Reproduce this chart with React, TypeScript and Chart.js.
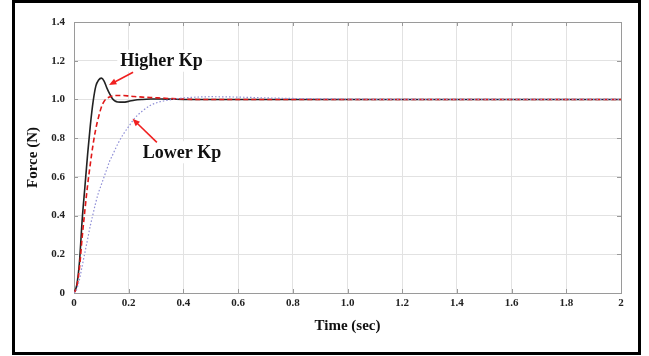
import React, { useEffect, useRef } from "react";
import { Chart, registerables } from "chart.js";

Chart.register(...registerables);

const timeSec = [0, 0.01, 0.02, 0.03, 0.04, 0.05, 0.06, 0.07, 0.08, 0.09, 0.1, 0.11, 0.12, 0.13, 0.14, 0.15, 0.16, 0.18, 0.2, 0.22, 0.25, 0.28, 0.32, 0.36, 0.4, 0.45, 0.5, 0.6, 0.7, 0.8, 1.0, 1.2, 1.5, 2.0];

const higherKp = [0, 0.04, 0.16, 0.38, 0.55, 0.72, 0.87, 0.99, 1.07, 1.1, 1.11, 1.095, 1.06, 1.03, 1.005, 0.992, 0.987, 0.986, 0.99, 0.996, 1.0, 1.002, 1.002, 1.001, 1.0, 1.0, 1.0, 1.0, 1.0, 1.0, 1.0, 1.0, 1.0, 1.0];

const midKp = [0, 0.03, 0.13, 0.29, 0.43, 0.56, 0.67, 0.77, 0.85, 0.91, 0.96, 0.99, 1.005, 1.013, 1.018, 1.02, 1.02, 1.02, 1.018, 1.015, 1.012, 1.01, 1.007, 1.004, 1.002, 1.0, 1.0, 1.0, 1.0, 1.0, 1.0, 1.0, 1.0, 1.0];

const lowerKp = [0, 0.02, 0.07, 0.14, 0.21, 0.28, 0.35, 0.41, 0.47, 0.52, 0.56, 0.6, 0.64, 0.68, 0.71, 0.74, 0.77, 0.82, 0.86, 0.9, 0.94, 0.97, 0.99, 1.0, 1.008, 1.012, 1.014, 1.012, 1.008, 1.005, 1.002, 1.0, 1.0, 1.0];

const xTicks = [0, 0.2, 0.4, 0.6, 0.8, 1.0, 1.2, 1.4, 1.6, 1.8, 2];
const xTickLabels = ["0", "0.2", "0.4", "0.6", "0.8", "1.0", "1.2", "1.4", "1.6", "1.8", "2"];
const yTicks = [0, 0.2, 0.4, 0.6, 0.8, 1.0, 1.2, 1.4];
const yTickLabels = ["0", "0.2", "0.4", "0.6", "0.8", "1.0", "1.2", "1.4"];

const noteTexts = ["Higher Kp", "Lower Kp"];
const noteAt = [[0.32, 1.2], [0.395, 0.727]];
const arrowFrom = [[0.216, 1.14], [0.303, 0.778]];
const arrowTo = [[0.128, 1.075], [0.214, 0.9]];

const FONT = "'Liberation Serif', 'Times New Roman', serif";

const toPts = (ys: number[]) => timeSec.map((t, i) => ({ x: t, y: ys[i] }));

const framePlugin = {
  id: "framePlugin",
  beforeDatasetsDraw(chart: any) {
    const { ctx, chartArea: a, scales } = chart;
    ctx.save();
    ctx.strokeStyle = "#9a9a9a";
    ctx.lineWidth = 1;
    const L = 4;
    ctx.beginPath();
    xTicks.forEach((v) => {
      const px = Math.round(scales.x.getPixelForValue(v)) + 0.5;
      ctx.moveTo(px, a.bottom);
      ctx.lineTo(px, a.bottom - L);
      ctx.moveTo(px, a.top);
      ctx.lineTo(px, a.top + L);
    });
    yTicks.forEach((v) => {
      const py = Math.round(scales.y.getPixelForValue(v)) + 0.5;
      ctx.moveTo(a.left, py);
      ctx.lineTo(a.left + L, py);
      ctx.moveTo(a.right, py);
      ctx.lineTo(a.right - L, py);
    });
    ctx.stroke();
    ctx.strokeRect(Math.round(a.left) + 0.5, Math.round(a.top) + 0.5, Math.round(a.right - a.left), Math.round(a.bottom - a.top));
    ctx.restore();
  },
  afterDatasetsDraw(chart: any) {
    const { ctx, scales } = chart;
    ctx.save();
    ctx.font = `bold 18px ${FONT}`;
    ctx.textAlign = "center";
    ctx.textBaseline = "middle";
    noteTexts.forEach((t, i) => {
      const px = scales.x.getPixelForValue(noteAt[i][0]);
      const py = scales.y.getPixelForValue(noteAt[i][1]);
      const w = ctx.measureText(t).width;
      ctx.fillStyle = "#ffffff";
      ctx.fillRect(px - w / 2 - 3, py - 11, w + 6, 22);
      ctx.fillStyle = "#111111";
      ctx.fillText(t, px, py + 1);
      // arrow
      const x1 = scales.x.getPixelForValue(arrowFrom[i][0]);
      const y1 = scales.y.getPixelForValue(arrowFrom[i][1]);
      const x2 = scales.x.getPixelForValue(arrowTo[i][0]);
      const y2 = scales.y.getPixelForValue(arrowTo[i][1]);
      const ang = Math.atan2(y2 - y1, x2 - x1);
      const hl = 8;
      ctx.strokeStyle = "#f02020";
      ctx.fillStyle = "#f02020";
      ctx.lineWidth = 1.6;
      ctx.beginPath();
      ctx.moveTo(x1, y1);
      ctx.lineTo(x2 - Math.cos(ang) * hl * 0.8, y2 - Math.sin(ang) * hl * 0.8);
      ctx.stroke();
      ctx.beginPath();
      ctx.moveTo(x2, y2);
      ctx.lineTo(x2 - hl * Math.cos(ang - 0.4), y2 - hl * Math.sin(ang - 0.4));
      ctx.lineTo(x2 - hl * Math.cos(ang + 0.4), y2 - hl * Math.sin(ang + 0.4));
      ctx.closePath();
      ctx.fill();
    });
    ctx.restore();
  },
};

export default function App() {
  const ref = useRef<HTMLCanvasElement | null>(null);
  useEffect(() => {
    if (!ref.current) return;
    const chart = new Chart(ref.current, {
      type: "scatter",
      data: {
        datasets: [
          {
            label: "Lower Kp",
            data: toPts(lowerKp),
            showLine: true,
            borderColor: "#8e8ed6",
            borderWidth: 1.2,
            borderDash: [1.5, 2],
            pointRadius: 0,
            cubicInterpolationMode: "monotone",
          },
          {
            label: "Medium Kp",
            data: toPts(midKp),
            showLine: true,
            borderColor: "#e01818",
            borderWidth: 1.6,
            borderDash: [5, 3],
            pointRadius: 0,
            cubicInterpolationMode: "monotone",
          },
          {
            label: "Higher Kp",
            data: toPts(higherKp),
            showLine: true,
            borderColor: "#222222",
            borderWidth: 1.6,
            pointRadius: 0,
            cubicInterpolationMode: "monotone",
          },
        ],
      },
      options: {
        responsive: false,
        animation: false,
        layout: { padding: { left: 0, top: 22, right: 28, bottom: 0 } },
        plugins: { legend: { display: false }, tooltip: { enabled: false } },
        scales: {
          x: {
            type: "linear",
            min: 0,
            max: 2,
            afterFit: (s: any) => { s.height = 63; },
            afterBuildTicks: (s: any) => { s.ticks = xTicks.map((v) => ({ value: v })); },
            grid: { color: "#e2e2e2", drawTicks: false },
            border: { display: false },
            ticks: {
              padding: 4,
              color: "#222",
              font: { family: FONT, size: 11, weight: "bold" },
              callback: (v: any) => { const i = xTicks.indexOf(Number(v)); return i >= 0 ? xTickLabels[i] : ""; },
            },
            title: {
              display: true,
              text: "Time (sec)",
              color: "#111",
              font: { family: FONT, size: 15, weight: "bold" },
              padding: { top: 0, bottom: 21 },
            },
          },
          y: {
            type: "linear",
            min: 0,
            max: 1.4,
            afterFit: (s: any) => { s.width = 74; },
            afterBuildTicks: (s: any) => { s.ticks = yTicks.map((v) => ({ value: v })); },
            grid: { color: "#e2e2e2", drawTicks: false },
            border: { display: false },
            ticks: {
              padding: 9,
              color: "#222",
              font: { family: FONT, size: 11, weight: "bold" },
              callback: (v: any) => { const i = yTicks.findIndex((t) => Math.abs(t - Number(v)) < 1e-6); return i >= 0 ? yTickLabels[i] : ""; },
            },
            title: {
              display: true,
              text: "Force (N)",
              color: "#111",
              font: { family: FONT, size: 15, weight: "bold" },
              padding: { top: 24, bottom: 0 },
            },
          },
        },
      },
      plugins: [framePlugin],
    } as any);
    return () => chart.destroy();
  }, []);
  return (
    <div style={{ position: "fixed", left: 0, top: 0, width: 649, height: 356, background: "#fff" }}>
      <canvas ref={ref} width={649} height={356} style={{ position: "absolute", left: 0, top: 0, width: 649, height: 356 }} />
      <div style={{ position: "absolute", left: 12, top: 0, width: 629, height: 355, border: "3px solid #000", boxSizing: "border-box", pointerEvents: "none" }} />
    </div>
  );
}
